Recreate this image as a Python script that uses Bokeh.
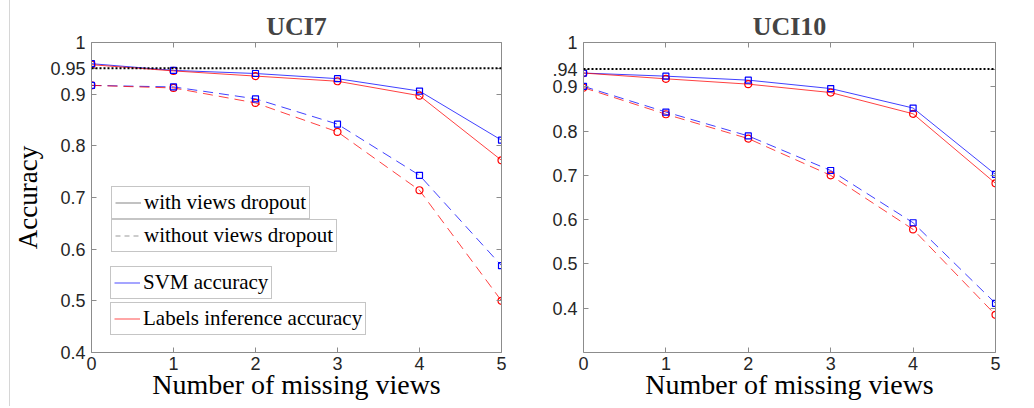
from bokeh.plotting import figure
from bokeh.models import (Range1d, LinearAxis, FixedTicker, Span, Legend,
                          LegendItem, ColumnDataSource, Div)
from bokeh.layouts import row
from bokeh.embed import file_html
from bokeh.resources import INLINE

# ---------------- data ----------------
views = [0, 1, 2, 3, 4, 5]

uci7_svm_drop = [0.959, 0.946, 0.940, 0.930, 0.906, 0.811]
uci7_lab_drop = [0.957, 0.945, 0.935, 0.925, 0.897, 0.772]
uci7_svm_nodrop = [0.917, 0.914, 0.891, 0.842, 0.743, 0.568]
uci7_lab_nodrop = [0.917, 0.912, 0.883, 0.827, 0.714, 0.500]
uci7_ref = 0.95

uci10_svm_drop = [0.931, 0.924, 0.915, 0.896, 0.852, 0.702]
uci10_lab_drop = [0.931, 0.918, 0.906, 0.887, 0.839, 0.682]
uci10_svm_nodrop = [0.901, 0.843, 0.789, 0.711, 0.593, 0.411]
uci10_lab_nodrop = [0.898, 0.838, 0.783, 0.700, 0.578, 0.385]
uci10_ref = 0.94

x_ticks = [0, 1, 2, 3, 4, 5]
uci7_yticks = [0.4, 0.5, 0.6, 0.7, 0.8, 0.9, 0.95, 1.0]
uci7_ylabels = ["0.4", "0.5", "0.6", "0.7", "0.8", "0.9", "0.95", "1"]
uci10_yticks = [0.4, 0.5, 0.6, 0.7, 0.8, 0.9, 0.94, 1.0]
uci10_ylabels = ["0.4", "0.5", "0.6", "0.7", "0.8", "0.9", ".94", "1"]

legend_labels = ["with views dropout", "without views dropout",
                 "SVM accuracy", "Labels inference accuracy"]

# ---------------- style ----------------
BLUE = "#0000ff"
RED = "#ff0000"
AX = "#8c8c8c"
TICKTXT = "#262626"
SERIF = "Liberation Serif"
SANS = "Liberation Sans"
DASH = "10 6"
H = 406


def style_axis(ax, show_labels=True):
    ax.axis_line_color = AX
    ax.axis_line_width = 1
    ax.major_tick_line_color = AX
    ax.major_tick_in = 5
    ax.major_tick_out = 0
    ax.minor_tick_line_color = None
    if show_labels:
        ax.major_label_text_font = SANS
        ax.major_label_text_font_size = "18px"
        ax.major_label_text_color = TICKTXT
    else:
        ax.major_label_text_font_size = "1px"
        ax.major_label_text_color = None
        ax.major_label_standoff = 0


def panel(title, ylo, yticks, ylabels, svm_d, lab_d, svm_n, lab_n, ref,
          width, min_left, min_right, ylabel=None):
    p = figure(width=width, height=H, output_backend="svg",
               toolbar_location=None, x_range=Range1d(0, 5),
               y_range=Range1d(ylo, 1.0),
               min_border_left=min_left, min_border_right=min_right,
               min_border_top=42, min_border_bottom=54, margin=0)
    p.background_fill_color = "white"
    p.border_fill_color = "white"
    p.outline_line_color = None
    p.grid.visible = False

    p.title.text = title
    p.title.text_font = SERIF
    p.title.text_font_style = "bold"
    p.title.text_font_size = "26px"
    p.title.align = "center"
    p.title.standoff = 3

    xa = p.xaxis[0]
    xa.ticker = FixedTicker(ticks=x_ticks)
    style_axis(xa)
    xa.major_label_standoff = 4
    xa.axis_label = "Number of missing views"
    xa.axis_label_text_font = SERIF
    xa.axis_label_text_font_style = "normal"
    xa.axis_label_text_font_size = "28px"
    xa.axis_label_text_color = "black"
    xa.axis_label_standoff = -4

    ya = p.yaxis[0]
    ya.ticker = FixedTicker(ticks=yticks)
    ya.major_label_overrides = {t: s for t, s in zip(yticks, ylabels)}
    style_axis(ya)
    ya.major_label_standoff = 6
    if ylabel:
        ya.axis_label = ylabel
        ya.axis_label_text_font = SERIF
        ya.axis_label_text_font_style = "normal"
        ya.axis_label_text_font_size = "27px"
        ya.axis_label_text_color = "black"
        ya.axis_label_standoff = 4

    top = LinearAxis(ticker=FixedTicker(ticks=x_ticks))
    style_axis(top, False)
    p.add_layout(top, "above")
    right = LinearAxis(ticker=FixedTicker(ticks=yticks))
    style_axis(right, False)
    p.add_layout(right, "right")

    p.add_layout(Span(location=ref, dimension="width", line_color="black",
                      line_width=2, line_dash="2 2"))

    for vals, col, dash in [(svm_n, BLUE, DASH), (lab_n, RED, DASH),
                            (svm_d, BLUE, "solid"), (lab_d, RED, "solid")]:
        p.line(views, vals, line_color=col, line_width=1, line_alpha=0.75,
               line_dash=dash)
    for vals, col, mk, sz in [(lab_n, RED, "circle", 7), (svm_n, BLUE, "square", 6),
                              (lab_d, RED, "circle", 7), (svm_d, BLUE, "square", 6)]:
        p.scatter(views, vals, marker=mk, size=sz, fill_color=None,
                  line_color=col, line_width=1.2)
    return p


p1 = panel("UCI7", 0.4, uci7_yticks, uci7_ylabels, uci7_svm_drop, uci7_lab_drop,
           uci7_svm_nodrop, uci7_lab_nodrop, uci7_ref, 505, 79, 14,
           ylabel="Accuracy")
p2 = panel("UCI10", 0.3, uci10_yticks, uci10_ylabels, uci10_svm_drop,
           uci10_lab_drop, uci10_svm_nodrop, uci10_lab_nodrop, uci10_ref,
           507, 68, 27)

# legends (left panel) -- placeholder renderers only supply the legend glyph
nan = float("nan")
legend_src = ColumnDataSource(data=dict(x=[nan], y=[nan]))
leg_styles = [("#9a9a9a", "solid"), ("#9a9a9a", "5 4"),
              ("#6a6aff", "solid"), ("#ff6a6a", "solid")]
leg_offsets = [(20, 133), (20, 100), (19, 53), (19, 17)]
for lab, (col, dash), loc in zip(legend_labels, leg_styles, leg_offsets):
    r = p1.line("x", "y", source=legend_src, line_color=col, line_width=1.2,
                line_dash=dash)
    leg = Legend(items=[LegendItem(label=lab, renderers=[r])], location=loc,
                 padding=3, spacing=0, margin=0, glyph_width=26,
                 glyph_height=21, label_height=21, label_standoff=3,
                 label_text_font=SERIF, label_text_font_size="21px",
                 label_text_color="black", border_line_color=AX,
                 border_line_width=1, background_fill_color="white",
                 background_fill_alpha=1)
    p1.add_layout(leg, "center")

edge = Div(text="", width=10, height=H, margin=0,
           styles={"border-right": "1px solid #d6d6d6", "box-sizing": "border-box"})

layout = row(edge, p1, p2, spacing=0, margin=0)
open("out.html", "w").write(file_html(layout, INLINE))
